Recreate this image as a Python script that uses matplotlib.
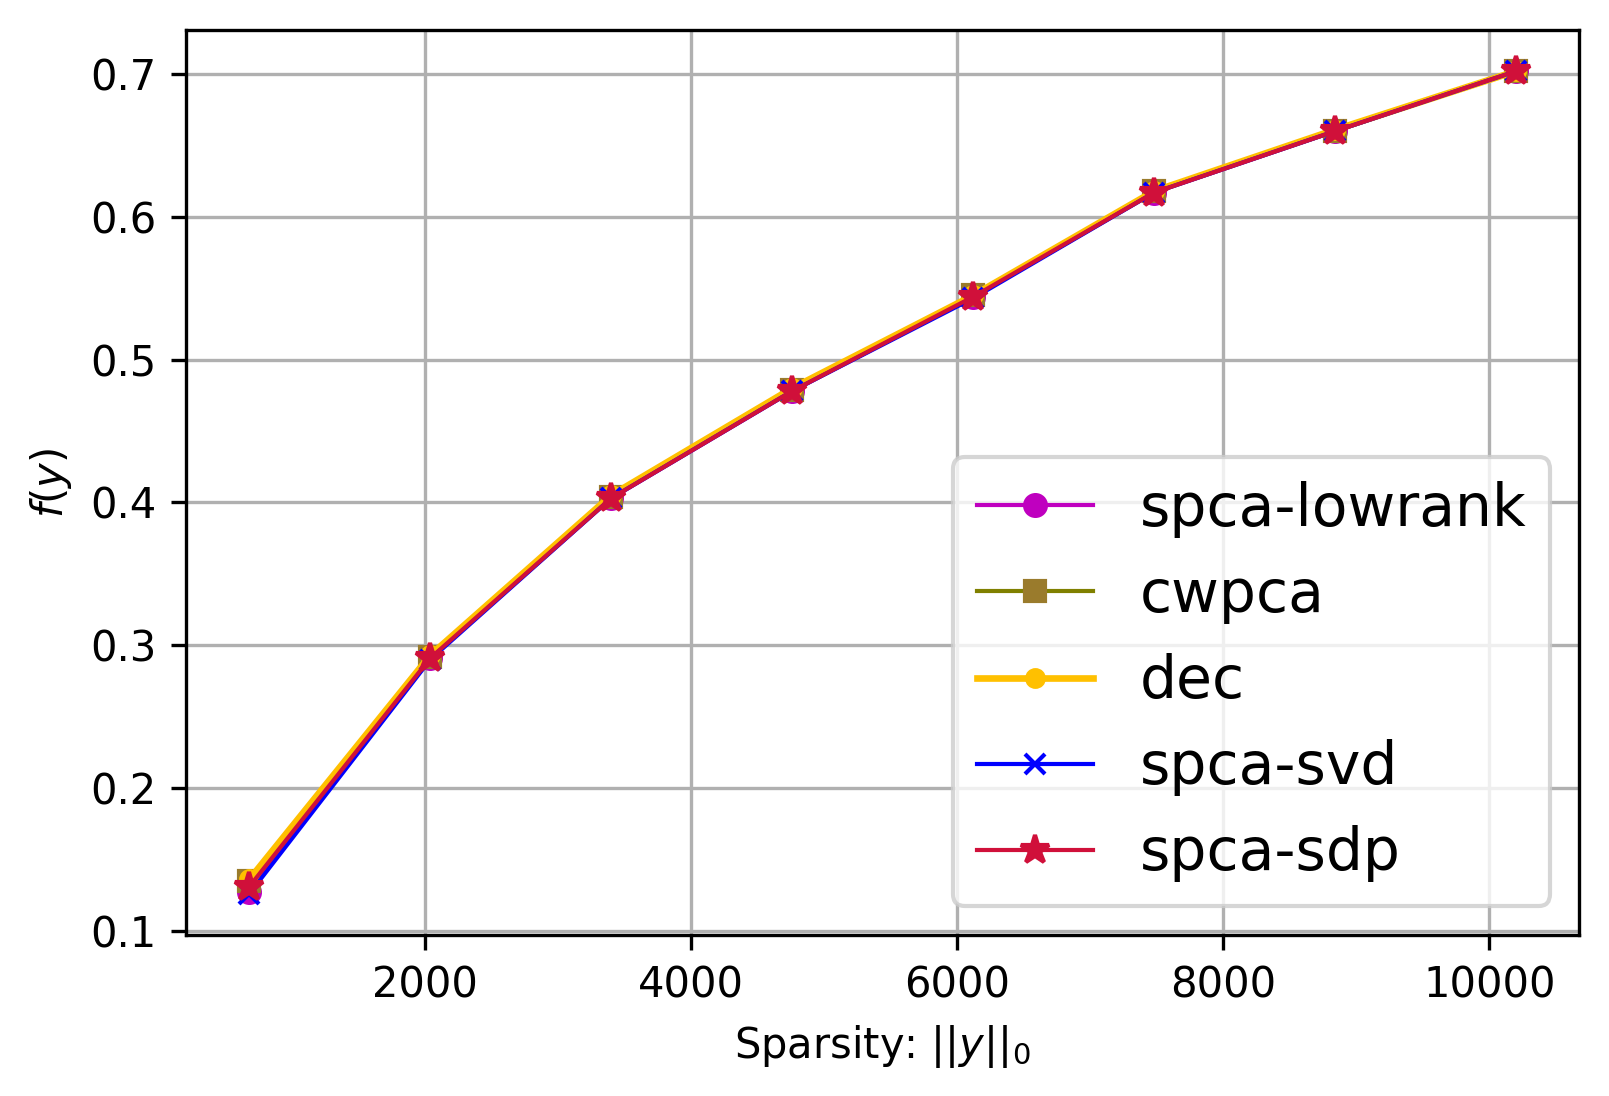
import matplotlib
matplotlib.use("Agg")
import matplotlib.pyplot as plt

sparsity = [680, 2040, 3400, 4760, 6120, 7480, 8840, 10200]
lowrank = [0.127, 0.291, 0.403, 0.478, 0.544, 0.617, 0.660, 0.702]
cwpca   = [0.135, 0.292, 0.404, 0.479, 0.545, 0.618, 0.660, 0.702]
dec     = [0.136, 0.293, 0.405, 0.480, 0.545, 0.618, 0.661, 0.702]
svd     = [0.126, 0.290, 0.403, 0.478, 0.543, 0.617, 0.660, 0.702]
sdp     = [0.131, 0.291, 0.403, 0.478, 0.544, 0.617, 0.660, 0.702]

fig = plt.figure(figsize=(1610/300, 1096/300), dpi=300)
ax = fig.add_axes([0.1155, 0.147, 0.8655, 0.8256])

ax.plot(sparsity, lowrank, color='m', marker='o', markersize=5, lw=1, label='spca-lowrank')
ax.plot(sparsity, cwpca, color='olive', marker='s', markersize=5, lw=1,
        markerfacecolor='#9a7b2c', markeredgecolor='#9a7b2c', label='cwpca')
ax.plot(sparsity, dec, color='#ffc000', marker='o', markersize=4, lw=1.6, label='dec')
ax.plot(sparsity, svd, color='blue', marker='x', markersize=5, lw=1, label='spca-svd')
ax.plot(sparsity, sdp, color='#d0103a', marker='*', markersize=7, lw=1, label='spca-sdp')

ax.grid(True)
ax.set_xlabel(r'Sparsity: $||y||_0$')
ax.set_ylabel(r'$f(y)$')
ax.legend(loc='lower right', fontsize=14, handlelength=2.0, labelspacing=0.5)

fig.savefig('out.png', dpi=300)
